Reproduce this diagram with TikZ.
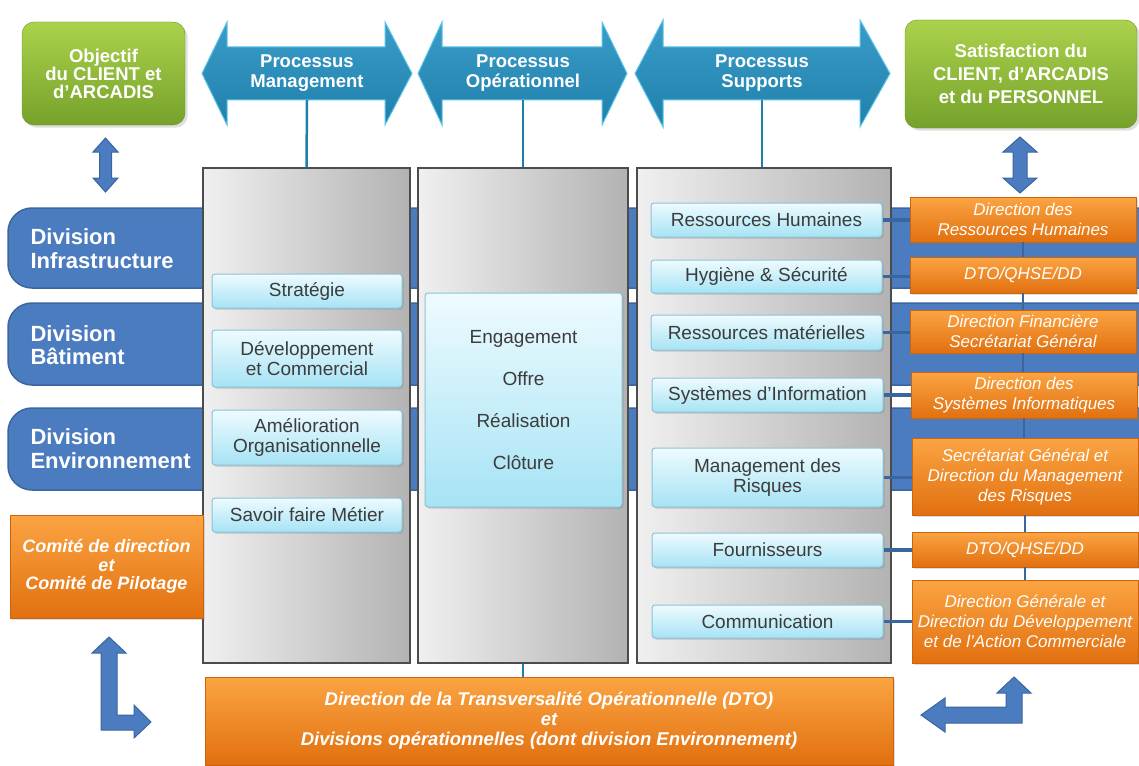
\documentclass[tikz,border=0pt]{standalone}
\usepackage{fontspec}
\setmainfont{Liberation Sans}
\usetikzlibrary{shadows}

\definecolor{procteal}{HTML}{1F80AB}
\definecolor{proclight}{HTML}{3A9CC8}
\definecolor{procedge}{HTML}{5CC3E8}
\definecolor{divblue}{HTML}{4A7CBF}
\definecolor{divline}{HTML}{3A669F}
\definecolor{orangetop}{HTML}{FBA443}
\definecolor{orangebot}{HTML}{E2700F}
\definecolor{greentop}{HTML}{ABD24C}
\definecolor{greenbot}{HTML}{76A22B}
\definecolor{celltop}{HTML}{EEFBFE}
\definecolor{cellbot}{HTML}{A6E3F5}
\definecolor{cellline}{HTML}{8CC3D5}
\definecolor{celltext}{HTML}{3C3C3C}

\begin{document}
\begin{tikzpicture}[x=1pt,y=-1pt,
	band/.style={fill=divblue,draw=divline,line width=1.5pt,rounded corners=24pt},
	bandtext/.style={anchor=west,align=left,text=white,font=\fontsize{22}{23.5}\selectfont\bfseries},
	goal/.style={rounded corners=12pt,top color=greentop,bottom color=greenbot,draw=greenbot!90!black,
		text=white,align=center,inner sep=0pt,drop shadow={opacity=0.25}},
	procarrow/.style={top color=proclight,bottom color=procteal,draw=procedge,line width=1pt},
	proctext/.style={text=white,align=center,minimum height=53pt,inner sep=0pt,
		font=\fontsize{18.5}{20}\selectfont\bfseries},
	procline/.style={draw=procteal,line width=2.5pt},
	panel/.style={draw=black!70,line width=1.5pt,left color=black!6,right color=black!30,inner sep=0pt},
	cell/.style={rounded corners=3pt,top color=celltop,bottom color=cellbot,draw=cellline,line width=1pt,
		text=celltext,align=center,inner sep=0pt,font=\fontsize{19}{20.5}\selectfont,
		drop shadow={shadow xshift=1.5pt,shadow yshift=-1.5pt,opacity=0.35}},
	service/.style={top color=orangetop,bottom color=orangebot,draw=orangebot!90!black,line width=0.5pt,
		text=white,align=center,inner sep=0pt,font=\fontsize{17}{20}\selectfont\itshape,
		drop shadow={shadow xshift=1.5pt,shadow yshift=-1.5pt,opacity=0.25}},
	link/.style={draw=divline,line width=3.5pt},
	vlink/.style={draw=divline,line width=2pt},
	blockarrow/.style={fill=divblue,draw=divline,line width=1pt}]

	\useasboundingbox (0,0) rectangle (1139,765);

	% Divisions
		\begin{scope}
			\clip (0,0) rectangle (1139,765);
			\draw[band] (8,208) rectangle (1180,288);
			\draw[band] (8,303) rectangle (1180,385);
			\draw[band] (8,408) rectangle (1180,490);
		\end{scope}
		\node[bandtext] (infra) at (27,248.5) {Division\\Infrastructure};
		\node[bandtext] (batim) at (27,345) {Division\\B\^atiment};
		\node[bandtext] (envir) at (27,448.5) {Division\\Environnement};

	% Client
		\node[goal,minimum width=163pt,minimum height=103pt,font=\fontsize{18.5}{18}\selectfont\bfseries]
			(objectif) at (103.5,73.5) {Objectif\\du CLIENT et\\d'ARCADIS};
		\node[goal,minimum width=232pt,minimum height=108pt,font=\fontsize{18.5}{23}\selectfont\bfseries]
			(satisf) at (1021,74) {Satisfaction du\\CLIENT, d'ARCADIS\\et du PERSONNEL};

		\draw[blockarrow] (105.5,138) -- (118,152) -- (111.5,152) -- (111.5,178) -- (118,178) -- (105.5,192)
			-- (93,178) -- (99.5,178) -- (99.5,152) -- (93,152) -- cycle;
		\draw[blockarrow] (1020,137) -- (1037,152) -- (1027,152) -- (1027,178) -- (1037,178) -- (1020,193)
			-- (1003,178) -- (1013,178) -- (1013,152) -- (1003,152) -- cycle;

	% Processus
		\draw[procarrow] (202,73.5) -- (227,22) -- (227,47) -- (385,47) -- (385,22) -- (412,73.5)
			-- (385,125) -- (385,100) -- (227,100) -- (227,125) -- cycle;
		\draw[procarrow] (418,73.5) -- (442,22) -- (442,47) -- (602,47) -- (602,22) -- (627,73.5)
			-- (602,125) -- (602,100) -- (442,100) -- (442,125) -- cycle;
		\draw[procarrow] (635,73.5) -- (663,20) -- (663,47) -- (860,47) -- (860,20) -- (890,73.5)
			-- (860,127) -- (860,100) -- (663,100) -- (663,127) -- cycle;

		\node[proctext] (pmtxt) at (307,73.5) {Processus\\Management};
		\node[proctext] (potxt) at (523,73.5) {Processus\\Op\'erationnel};
		\node[proctext] (pstxt) at (762,73.5) {Processus\\Supports};

		\node[panel,minimum width=207pt,minimum height=495pt] (mgmt) at (306.5,415.5) {};
		\node[panel,minimum width=210pt,minimum height=495pt] (oper) at (523,415.5) {};
		\node[panel,minimum width=254pt,minimum height=495pt] (supp) at (764,415.5) {};

		\draw[procline] (pmtxt.south) -- (mgmt.north);
		\draw[procline] (potxt.south) -- (oper.north);
		\draw[procline] (pstxt.south) -- (pstxt.south |- supp.north);

	% Management
		\node[cell,minimum width=190pt,minimum height=34pt] (strat) at (307,291) {Strat\'egie};
		\node[cell,minimum width=190pt,minimum height=57pt] (devco) at (307,358.5) {D\'eveloppement\\et Commercial};
		\node[cell,minimum width=190pt,minimum height=55pt] (amelio) at (307,437.5) {Am\'elioration\\Organisationnelle};
		\node[cell,minimum width=190pt,minimum height=34pt] (savoir) at (307,515) {Savoir faire M\'etier};

	% Operationnel
		\node[cell,minimum width=197pt,minimum height=214pt,font=\fontsize{19}{42}\selectfont]
			(phases) at (523.5,400) {Engagement\\Offre\\R\'ealisation\\Cl\^oture};

	% Supports
		\node[cell,minimum width=231pt,minimum height=34pt] (rh) at (766.5,220) {Ressources Humaines};
		\node[cell,minimum width=231pt,minimum height=33pt] (hs) at (766.5,276.5) {Hygi\`ene \& S\'ecurit\'e};
		\node[cell,minimum width=231pt,minimum height=35pt] (rm) at (766.5,332.5) {Ressources mat\'erielles};
		\node[cell,minimum width=231pt,minimum height=34pt] (si) at (767.5,395) {Syst\`emes d'Information};
		\node[cell,minimum width=231pt,minimum height=59pt] (mr) at (767.5,477.5) {Management des\\Risques};
		\node[cell,minimum width=231pt,minimum height=34pt] (fourn) at (767.5,550) {Fournisseurs};
		\node[cell,minimum width=231pt,minimum height=33pt] (comm) at (767.5,621.5) {Communication};

	% Directions
		\node[service,minimum width=226pt,minimum height=45pt] (drh) at (1023,219.5) {Direction des\\Ressources Humaines};
		\node[service,minimum width=226pt,minimum height=36pt] (dtoa) at (1023,275) {DTO/QHSE/DD};
		\node[service,minimum width=226pt,minimum height=43pt] (dfin) at (1023,331.5) {Direction Financi\`ere\\Secr\'etariat G\'en\'eral};
		\node[service,minimum width=226pt,minimum height=46pt] (dsi) at (1024,395) {Direction des\\Syst\`emes Informatiques};
		\node[service,minimum width=226pt,minimum height=77pt] (dmr) at (1025,476.5) {Secr\'etariat G\'en\'eral et\\Direction du Management\\des Risques};
		\node[service,minimum width=226pt,minimum height=35pt] (dtob) at (1025,549.5) {DTO/QHSE/DD};
		\node[service,minimum width=226pt,minimum height=83pt] (dgen) at (1025,621.5) {Direction G\'en\'erale et\\Direction du D\'eveloppement\\et de l'Action Commerciale};

		\draw[link] (rh.east) -- (rh.east -| drh.west);
		\draw[link] (hs.east) -- (hs.east -| dtoa.west);
		\draw[link] (rm.east) -- (rm.east -| dfin.west);
		\draw[link] (si.east) -- (si.east -| dsi.west);
		\draw[link] (mr.east) -- (mr.east -| dmr.west);
		\draw[link] (fourn.east) -- (fourn.east -| dtob.west);
		\draw[link] (comm.east) -- (comm.east -| dgen.west);

		\draw[vlink] (drh.south) -- (drh.south |- dtoa.north);
		\draw[vlink] (dtoa.south) -- (dtoa.south |- dfin.north);
		\draw[vlink] (dfin.south) -- (dfin.south |- dsi.north);
		\draw[vlink] (dsi.south) -- (dsi.south |- dmr.north);
		\draw[vlink] (dmr.south) -- (dmr.south |- dtob.north);
		\draw[vlink] (dtob.south) -- (dtob.south |- dgen.north);

	% Pilotage
		\node[service,minimum width=193pt,minimum height=103pt,font=\fontsize{18}{18.5}\selectfont\bfseries\itshape]
			(comite) at (106.5,566.5) {Comit\'e de direction\\et\\Comit\'e de Pilotage};
		\node[service,minimum width=688pt,minimum height=88pt,font=\fontsize{18.5}{20}\selectfont\bfseries\itshape]
			(dto) at (549,721) {Direction de la Transversalit\'e Op\'erationnelle (DTO)\\et\\Divisions op\'erationnelles (dont division Environnement)};

		\draw[procline] (oper.south) -- (oper.south |- dto.north);

		\draw[blockarrow] (109,637) -- (126,653) -- (117,653) -- (117,715) -- (134,715) -- (134,705) -- (151,722)
			-- (134,738) -- (134,730) -- (101,730) -- (101,653) -- (92,653) -- cycle;
		\draw[blockarrow] (1014,677) -- (1031,693) -- (1022,693) -- (1022,723) -- (945,723) -- (945,732) -- (921,715)
			-- (945,698) -- (945,707) -- (1006,707) -- (1006,693) -- (997,693) -- cycle;
\end{tikzpicture}
\end{document}
